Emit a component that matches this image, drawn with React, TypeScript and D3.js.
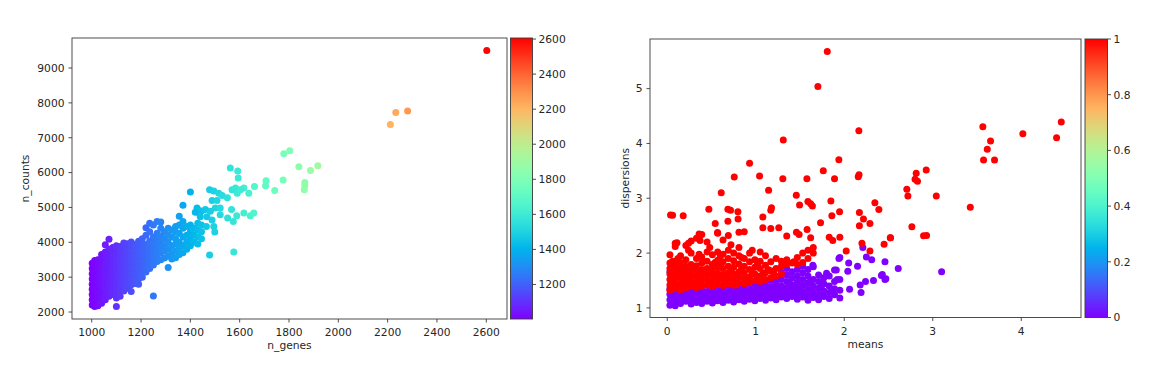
import React from "react";
import * as d3 from "d3";

// ---- tick values ----
const geneTicks = [1000, 1200, 1400, 1600, 1800, 2000, 2200, 2400, 2600];
const countTicks = [2000, 3000, 4000, 5000, 6000, 7000, 8000, 9000];
const geneBarTicks = [1200, 1400, 1600, 1800, 2000, 2200, 2400, 2600];
const meanTicks = [0, 1, 2, 3, 4];
const dispTicks = [1, 2, 3, 4, 5];
const hvgBarTicks = [0, 0.2, 0.4, 0.6, 0.8, 1];

// ---- left panel: cells, [n_genes, [n_counts...]] ----
const cellColumns: [number, number[]][] = [
  [1002, [2200, 2350, 2500, 2650, 2800, 2950, 3100, 3250, 3400]],
  [1012, [2160, 2300, 2450, 2600, 2760, 2900, 3050, 3200, 3350, 3480]],
  [1025, [2180, 2380, 2550, 2700, 2870, 3020, 3180, 3330, 3500]],
  [1040, [2250, 2420, 2580, 2750, 2900, 3060, 3220, 3380, 3540, 3650]],
  [1055, [2350, 2500, 2680, 2830, 2990, 3150, 3300, 3450, 3600, 3720, 3930]],
  [1070, [2450, 2600, 2760, 2920, 3080, 3240, 3400, 3560, 3700, 3800, 4090]],
  [1085, [2500, 2660, 2820, 2980, 3140, 3300, 3460, 3620, 3760, 3850]],
  [1100, [2160, 2400, 2560, 2720, 2880, 3040, 3200, 3360, 3520, 3680, 3820, 3900]],
  [1115, [2450, 2620, 2780, 2940, 3100, 3260, 3420, 3580, 3740, 3880]],
  [1130, [2600, 2760, 2920, 3080, 3240, 3400, 3560, 3720, 3880, 3980]],
  [1145, [2680, 2840, 3000, 3160, 3320, 3480, 3640, 3800, 3960]],
  [1160, [2590, 2780, 2940, 3100, 3260, 3420, 3580, 3740, 3900, 4010]],
  [1175, [2820, 2980, 3140, 3300, 3460, 3620, 3780, 3940]],
  [1190, [2800, 2950, 3100, 3260, 3420, 3580, 3740, 3900, 4030]],
  [1205, [3000, 3160, 3320, 3480, 3640, 3800, 3960, 4100]],
  [1220, [3150, 3300, 3460, 3620, 3780, 3940, 4200, 4420]],
  [1235, [3250, 3400, 3560, 3720, 3880, 4040, 4300, 4550]],
  [1250, [2460, 3350, 3500, 3660, 3820, 3980, 4150, 4500]],
  [1265, [3450, 3620, 3780, 3940, 4100, 4260, 4600]],
  [1280, [3500, 3700, 3860, 4020, 4180, 4400, 4580]],
  [1295, [3550, 3750, 3900, 4100, 4300]],
  [1310, [3280, 3600, 3800, 4000, 4200, 4400]],
  [1325, [3520, 3700, 3900, 4150, 4350]],
  [1340, [3560, 3750, 3950, 4100, 4300, 4450]],
  [1355, [3650, 3850, 4000, 4250, 4500, 4750]],
  [1370, [3700, 3900, 4150, 4400, 4600, 5060]],
  [1385, [3800, 4000, 4200, 4450]],
  [1400, [3900, 4100, 4300, 4500, 5440]],
  [1415, [4000, 4200, 4400]],
  [1430, [3950, 4150, 4350, 4550, 4860]],
  [1445, [4100, 4300, 4500, 4900]],
];

const cellScatter: [number, number][] = [
  [1465, 4450], [1495, 4450], [1478, 5508], [1495, 5470], [1515, 5410],
  [1529, 5340], [1550, 5280], [1488, 5200], [1508, 5200], [1569, 5508],
  [1590, 5410], [1583, 5560], [1617, 5560], [1637, 5410], [1660, 5600],
  [1603, 5508], [1427, 4983], [1440, 4890], [1461, 4940], [1481, 4890],
  [1501, 4983], [1521, 4983], [1420, 4860], [1440, 4730], [1467, 4730],
  [1488, 4640], [1521, 4790], [1551, 4700], [1574, 4600], [1567, 4940],
  [1588, 4760], [1617, 4840], [1643, 4760], [1657, 4840], [1478, 3635],
  [1576, 3720], [1499, 4295], [1562, 6131], [1592, 6045], [1594, 5844],
  [1707, 5766], [1705, 5623], [1742, 5488], [1776, 5790], [1779, 6541],
  [1803, 6627], [1840, 6168], [1887, 6062], [1917, 6197], [1864, 5719],
  [1864, 5623], [1862, 5508], [2211, 7382], [2233, 7727], [2281, 7766],
  [2602, 9505],
];

// ---- right panel: genes, [means, [dispersions...]] ----
const otherGenes: [number, number[]][] = [
  [0.03, [1.05, 1.15, 1.25, 1.35, 1.66]],
  [0.09, [1.04, 1.13, 1.22, 1.31, 1.4]],
  [0.15, [1.08, 1.18, 1.28, 1.37]],
  [0.21, [1.12, 1.21, 1.3]],
  [0.27, [1.07, 1.16, 1.26, 1.35]],
  [0.33, [1.1, 1.19, 1.28]],
  [0.39, [1.08, 1.17, 1.27, 1.36]],
  [0.45, [1.12, 1.21, 1.3]],
  [0.51, [1.09, 1.18, 1.28, 1.37]],
  [0.57, [1.13, 1.22, 1.32]],
  [0.63, [1.1, 1.19, 1.29, 1.38]],
  [0.69, [1.14, 1.24, 1.33]],
  [0.75, [1.11, 1.2, 1.3, 1.4]],
  [0.81, [1.15, 1.25, 1.35]],
  [0.87, [1.12, 1.22, 1.32, 1.42]],
  [0.93, [1.16, 1.26, 1.36]],
  [0.99, [1.13, 1.23, 1.33, 1.43]],
  [1.05, [1.17, 1.27, 1.37, 1.47]],
  [1.11, [1.14, 1.24, 1.34, 1.44]],
  [1.17, [1.18, 1.28, 1.38, 1.5]],
  [1.23, [1.15, 1.25, 1.35, 1.45, 1.55]],
  [1.29, [1.2, 1.3, 1.4, 1.52, 1.65]],
  [1.35, [1.17, 1.27, 1.37, 1.48, 1.6, 1.72]],
  [1.41, [1.21, 1.31, 1.42, 1.54, 1.66]],
  [1.47, [1.16, 1.26, 1.36, 1.47, 1.58, 1.7]],
  [1.53, [1.2, 1.3, 1.41, 1.52, 1.64, 1.76]],
  [1.59, [1.14, 1.24, 1.34, 1.46, 1.58, 1.7]],
  [1.65, [1.19, 1.29, 1.4, 1.52, 1.75]],
  [1.71, [1.15, 1.25, 1.36, 1.48, 1.6]],
  [1.77, [1.21, 1.31, 1.44, 1.55]],
  [1.83, [1.17, 1.28, 1.4, 1.58]],
  [1.89, [1.24, 1.35, 1.48, 1.69]],
  [1.95, [1.18, 1.32, 1.52, 1.92]],
];

const otherScatter: [number, number][] = [
  [2.04, 1.67], [2.05, 1.82], [2.15, 1.76], [2.21, 2.1], [2.25, 1.93],
  [2.31, 1.88], [2.46, 1.84], [2.61, 1.72], [2.43, 1.61], [2.47, 1.53],
  [2.33, 1.5], [2.24, 1.48], [2.18, 1.42], [2.06, 1.34], [2.19, 1.28],
  [3.1, 1.66], [2.42, 1.59], [2.46, 1.52], [1.8, 1.63], [1.91, 1.69],
  [1.92, 1.52], [1.645, 1.78], [1.94, 1.9],
  [0.06, 1.2], [0.18, 1.24], [0.3, 1.14], [0.42, 1.26], [0.54, 1.14],
  [0.66, 1.28], [0.78, 1.16], [0.9, 1.28], [1.02, 1.2], [1.14, 1.32],
  [1.26, 1.28], [1.38, 1.45], [1.5, 1.32], [1.62, 1.5], [1.74, 1.38],
  [1.86, 1.3], [0.12, 1.34], [0.48, 1.34],
];

const variableGenes: [number, number[]][] = [
  [0.03, [1.32, 1.42, 1.52, 1.62, 1.72, 1.82, 1.97]],
  [0.06, [2.69]],
  [0.09, [1.35, 1.45, 1.55, 1.65, 1.75, 1.85, 2.12, 2.18]],
  [0.15, [1.33, 1.43, 1.53, 1.63, 1.73, 1.83, 1.95]],
  [0.18, [2.68]],
  [0.21, [1.36, 1.46, 1.56, 1.66, 1.76, 1.88, 2.14]],
  [0.27, [1.39, 1.49, 1.59, 1.69, 1.79, 2.0, 2.22]],
  [0.33, [1.37, 1.47, 1.57, 1.67, 1.77, 1.9, 2.27]],
  [0.39, [1.4, 1.5, 1.6, 1.7, 1.82, 1.93, 2.34]],
  [0.45, [1.42, 1.52, 1.62, 1.72, 1.85, 2.02, 2.2]],
  [0.51, [1.39, 1.49, 1.59, 1.69, 1.79, 1.97]],
  [0.57, [1.43, 1.53, 1.63, 1.74, 1.87, 2.02, 2.36]],
  [0.63, [1.41, 1.51, 1.61, 1.72, 1.84, 1.98, 2.24]],
  [0.69, [1.44, 1.54, 1.64, 1.76, 1.9, 2.05, 2.32]],
  [0.75, [1.42, 1.52, 1.62, 1.74, 1.86, 2.0]],
  [0.81, [1.46, 1.56, 1.66, 1.8, 1.95, 2.1]],
  [0.87, [1.44, 1.54, 1.64, 1.76, 1.9]],
  [0.93, [1.47, 1.57, 1.7, 1.84, 2.0]],
  [0.99, [1.5, 1.62, 1.74, 1.88]],
  [1.05, [1.48, 1.58, 1.72, 1.85, 2.02]],
  [1.11, [1.52, 1.64, 1.78, 1.95]],
  [1.17, [1.55, 1.68, 1.84]],
  [1.23, [1.58, 1.72, 1.9]],
  [1.29, [1.62, 1.76, 1.85]],
  [1.35, [1.8, 1.88]],
  [1.41, [1.82]],
  [1.47, [1.79, 1.92]],
  [1.53, [1.83, 2.0]],
  [1.59, [1.9, 2.05]],
  [1.65, [2.0, 2.1]],
];

const variableScatter: [number, number][] = [
  [1.808, 5.676], [1.702, 5.04], [1.311, 4.063], [2.165, 4.233], [0.93, 3.637],
  [1.043, 3.405], [0.757, 3.387], [1.306, 3.356], [1.578, 3.356], [1.763, 3.502],
  [1.939, 3.703], [1.89, 3.356], [2.158, 3.393], [2.167, 3.43], [1.145, 3.144],
  [0.61, 3.1], [1.458, 3.053], [1.849, 2.949], [2.346, 2.918], [1.589, 2.943],
  [1.62, 2.9], [1.64, 2.86], [1.495, 2.876], [1.178, 2.827], [1.17, 2.78],
  [0.47, 2.8], [0.685, 2.8], [0.715, 2.78], [0.798, 2.754], [2.391, 2.797],
  [1.947, 2.754], [2.171, 2.74], [0.037, 2.693], [0.542, 2.541], [0.685, 2.58],
  [0.8, 2.62], [1.08, 2.66], [1.732, 2.552], [1.86, 2.68], [2.217, 2.62],
  [2.29, 2.54], [2.171, 2.5], [0.568, 2.377], [0.36, 2.35], [0.81, 2.38],
  [0.87, 2.39], [1.08, 2.46], [1.17, 2.45], [1.26, 2.46], [1.46, 2.38],
  [1.49, 2.34], [1.58, 2.43], [1.35, 2.31], [1.62, 2.28], [1.83, 2.29],
  [1.95, 2.29], [1.87, 2.23], [2.523, 2.28], [2.45, 2.16], [2.2, 2.18],
  [2.022, 2.04], [2.29, 2.04], [0.37, 2.23], [0.24, 2.18], [0.11, 2.19],
  [1.43, 1.84], [4.452, 4.392], [3.566, 4.306], [4.018, 4.178], [4.399, 4.105],
  [3.653, 4.045], [3.616, 3.893], [3.574, 3.698], [3.698, 3.698], [2.926, 3.515],
  [2.813, 3.455], [2.8, 3.345], [2.827, 3.31], [2.707, 3.163], [2.719, 3.04],
  [3.04, 3.04], [3.424, 2.834], [2.764, 2.48], [2.896, 2.315], [2.93, 2.32],
  [2.52, 2.28],
  [0.06, 1.5], [0.12, 1.68], [0.18, 1.4], [0.24, 1.58], [0.3, 1.75],
  [0.36, 1.52], [0.42, 1.66], [0.48, 1.47], [0.54, 1.6], [0.6, 1.78],
  [0.66, 1.49], [0.72, 1.68], [0.78, 1.58], [0.84, 1.72], [0.9, 1.5],
  [0.96, 1.64], [1.02, 1.8], [1.08, 1.62], [1.14, 1.7], [0.12, 1.9],
  [0.36, 1.98], [0.6, 1.95], [0.84, 1.92], [0.24, 2.05], [0.48, 2.1],
  [0.72, 2.15], [0.96, 2.05], [1.2, 1.65], [0.06, 1.85], [0.3, 1.45],
  [0.54, 1.83], [0.78, 1.42], [1.02, 1.55],
];

// matplotlib "rainbow" colormap
function rainbow(t: number): string {
  const c = (v: number) => Math.round(Math.max(0, Math.min(1, v)) * 255);
  const r = Math.abs(2 * t - 0.5);
  const g = Math.sin(Math.PI * t);
  const b = Math.cos((Math.PI / 2) * t);
  return `rgb(${c(r)},${c(g)},${c(b)})`;
}

const FONT = "'DejaVu Sans', sans-serif";
const FS = 10.7;
const TEXT = "#262626";
const SPINE = "#3a3a3a";

type Pt = { x: number; y: number; v: number };

interface PanelProps {
  id: string;
  x0: number; x1: number; y0: number; y1: number;
  xDomain: [number, number]; yDomain: [number, number];
  xTicks: number[]; yTicks: number[];
  xLabel: string; yLabel: string; yLabelX: number;
  points: Pt[];
  cbX0: number; cbX1: number;
  cbDomain: [number, number]; cbTicks: number[];
}

const Panel: React.FC<PanelProps> = (p) => {
  const x = d3.scaleLinear().domain(p.xDomain).range([p.x0, p.x1]);
  const y = d3.scaleLinear().domain(p.yDomain).range([p.y1, p.y0]);
  const norm = d3.scaleLinear().domain(p.cbDomain).range([0, 1]).clamp(true);
  const cb = d3.scaleLinear().domain(p.cbDomain).range([p.y1, p.y0]);
  const stops = d3.range(0, 1.0001, 0.05);
  const fmt = (v: number) => String(v);

  return (
    <g fontFamily={FONT} fontSize={FS} fill={TEXT}>
      <defs>
        <linearGradient id={`grad-${p.id}`} x1="0" y1="1" x2="0" y2="0">
          {stops.map((s) => (
            <stop key={s} offset={s} stopColor={rainbow(s)} />
          ))}
        </linearGradient>
        <clipPath id={`clip-${p.id}`}>
          <rect x={p.x0} y={p.y0} width={p.x1 - p.x0} height={p.y1 - p.y0} />
        </clipPath>
      </defs>

      <g clipPath={`url(#clip-${p.id})`}>
        {p.points.map((d, i) => (
          <circle key={i} cx={x(d.x)} cy={y(d.y)} r={3.5} fill={rainbow(norm(d.v))} />
        ))}
      </g>

      <rect x={p.x0} y={p.y0} width={p.x1 - p.x0} height={p.y1 - p.y0}
        fill="none" stroke={SPINE} strokeWidth={0.9} />

      {p.xTicks.map((t) => (
        <g key={`x${t}`}>
          <line x1={x(t)} x2={x(t)} y1={p.y1} y2={p.y1 + 3.5} stroke={SPINE} strokeWidth={0.9} />
          <text x={x(t)} y={p.y1 + 17} textAnchor="middle">{fmt(t)}</text>
        </g>
      ))}
      {p.yTicks.map((t) => (
        <g key={`y${t}`}>
          <line x1={p.x0 - 3.5} x2={p.x0} y1={y(t)} y2={y(t)} stroke={SPINE} strokeWidth={0.9} />
          <text x={p.x0 - 7.5} y={y(t)} dy="0.36em" textAnchor="end">{fmt(t)}</text>
        </g>
      ))}

      <text x={(p.x0 + p.x1) / 2} y={p.y1 + 30} textAnchor="middle">{p.xLabel}</text>
      <text transform={`translate(${p.yLabelX},${(p.y0 + p.y1) / 2}) rotate(-90)`}
        textAnchor="middle">{p.yLabel}</text>

      <rect x={p.cbX0} y={p.y0} width={p.cbX1 - p.cbX0} height={p.y1 - p.y0}
        fill={`url(#grad-${p.id})`} stroke={SPINE} strokeWidth={0.9} />
      {p.cbTicks.map((t) => (
        <g key={`c${t}`}>
          <line x1={p.cbX1} x2={p.cbX1 + 3.5} y1={cb(t)} y2={cb(t)} stroke={SPINE} strokeWidth={0.9} />
          <text x={p.cbX1 + 6} y={cb(t)} dy="0.36em" textAnchor="start">{fmt(t)}</text>
        </g>
      ))}
    </g>
  );
};

export default function App() {
  const cells: Pt[] = [];
  cellColumns.forEach(([g, cs]) => cs.forEach((c) => cells.push({ x: g, y: c, v: g })));
  cellScatter.forEach(([g, c]) => cells.push({ x: g, y: c, v: g }));

  const genes: Pt[] = [];
  otherGenes.forEach(([m, ds]) => ds.forEach((d) => genes.push({ x: m, y: d, v: 0 })));
  otherScatter.forEach(([m, d]) => genes.push({ x: m, y: d, v: 0 }));
  variableGenes.forEach(([m, ds]) => ds.forEach((d) => genes.push({ x: m, y: d, v: 1 })));
  variableScatter.forEach(([m, d]) => genes.push({ x: m, y: d, v: 1 }));

  return (
    <div style={{ position: "absolute", left: 0, top: 0, background: "#fff" }}>
      <svg width={1176} height={384} style={{ display: "block" }}>
        <rect width={1176} height={384} fill="#fff" />
        <Panel id="a" x0={72} x1={507} y0={38} y1={319}
          xDomain={[920, 2684]} yDomain={[1800, 9861]}
          xTicks={geneTicks} yTicks={countTicks}
          xLabel="n_genes" yLabel="n_counts" yLabelX={29}
          points={cells}
          cbX0={510.5} cbX1={532.5} cbDomain={[1003, 2606]} cbTicks={geneBarTicks} />
        <Panel id="b" x0={650} x1={1081} y0={39} y1={317.5}
          xDomain={[-0.195, 4.675]} yDomain={[0.825, 5.905]}
          xTicks={meanTicks} yTicks={dispTicks}
          xLabel="means" yLabel="dispersions" yLabelX={629}
          points={genes}
          cbX0={1085} cbX1={1107.5} cbDomain={[0, 1]} cbTicks={hvgBarTicks} />
      </svg>
    </div>
  );
}
